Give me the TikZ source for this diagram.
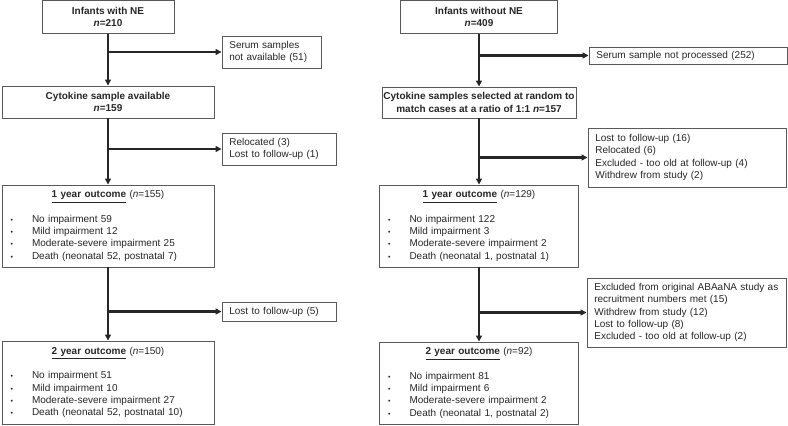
\documentclass[tikz,border=0pt]{standalone}
\usepackage{fontspec}
\setmainfont{Liberation Sans}
\usetikzlibrary{arrows.meta}

\newcommand{\itm}[1]{\makebox[18pt][l]{\hspace{2pt}\scalebox{0.7}{\textbullet}}#1}

\begin{document}
\begin{tikzpicture}[x=0.75pt, y=-0.75pt, font=\fontsize{7.5pt}{9.2pt}\selectfont,
		box/.style={draw=black!65, line width=0.7pt, inner sep=0pt, text=black!85, align=center},
		head/.style={box, font=\fontsize{7.5pt}{9.2pt}\selectfont\bfseries},
		side/.style={box, align=left, inner xsep=5.5pt},
		outc/.style={box, align=left, inner xsep=4.5pt, text width=150pt, minimum height=61.5pt},
		arr/.style={line width=1.6pt, black!85, -{Triangle[length=4.5pt,width=4.5pt]}}]
		\useasboundingbox (0,0) rectangle (788,425);

		% left: infants with NE
		\node[head, minimum width=99pt, minimum height=24.75pt] (nL) at (108,17) {Infants with NE\\\textit{n}=210};
		\node[side, text width=63.25pt, minimum height=24pt] (serL) at (271.5,52) {Serum samples\\not available (51)};
		\node[head, minimum width=159pt, minimum height=24pt] (cytL) at (108,102) {Cytokine sample available\\\textit{n}=159};
		\node[side, text width=74.5pt, minimum height=24pt] (relL) at (279,149) {Relocated (3)\\Lost to follow-up (1)};
		\node[outc] (y1L) at (108,226) {{\centering\underline{\textbf{1 year outcome}} (\textit{n}=155)\par}\vspace{9.2pt}
			\itm{No impairment 59}\\\itm{Mild impairment 12}\\\itm{Moderate-severe impairment 25}\\\itm{Death (neonatal 52, postnatal 7)}};
		\node[side, text width=74.5pt, minimum height=14.25pt] (lostL) at (279,311.5) {Lost to follow-up (5)};
		\node[outc, minimum height=62.25pt] (y2L) at (108,382.5) {{\centering\underline{\textbf{2 year outcome}} (\textit{n}=150)\par}\vspace{9.2pt}
			\itm{No impairment 51}\\\itm{Mild impairment 10}\\\itm{Moderate-severe impairment 27}\\\itm{Death (neonatal 52, postnatal 10)}};

		% right: infants without NE
		\node[head, minimum width=117.75pt, minimum height=24.75pt] (nR) at (479,17) {Infants without NE\\\textit{n}=409};
		\node[side, text width=137.5pt, minimum height=12.75pt] (serR) at (688,55.5) {Serum sample not processed (252)};
		\node[head, minimum width=145.5pt, minimum height=23.25pt] (cytR) at (479,102.5) {Cytokine samples selected at random to\\match cases at a ratio of 1:1 \textit{n}=157};
		\node[side, text width=137.5pt, minimum height=44.25pt] (l16R) at (687,157.5) {Lost to follow-up (16)\\Relocated (6)\\Excluded - too old at follow-up (4)\\Withdrew from study (2)};
		\node[outc, text width=140.25pt] (y1R) at (479,226) {{\centering\underline{\textbf{1 year outcome}} (\textit{n}=129)\par}\vspace{9.2pt}
			\itm{No impairment 122}\\\itm{Mild impairment 3}\\\itm{Moderate-severe impairment 2}\\\itm{Death (neonatal 1, postnatal 1)}};
		\node[side, text width=138.25pt, minimum height=51.75pt] (exR) at (686.5,312.5) {Excluded from original ABAaNA study as\\recruitment numbers met (15)\\Withdrew from study (12)\\Lost to follow-up (8)\\Excluded - too old at follow-up (2)};
		\node[outc, text width=140.25pt] (y2R) at (479,383) {{\centering\underline{\textbf{2 year outcome}} (\textit{n}=92)\par}\vspace{9.2pt}
			\itm{No impairment 81}\\\itm{Mild impairment 6}\\\itm{Moderate-severe impairment 2}\\\itm{Death (neonatal 1, postnatal 2)}};

		\draw[arr] (nL) -- (cytL);
		\draw[arr] (cytL) -- (y1L);
		\draw[arr] (y1L) -- (y2L);
		\draw[arr] (nL |- serL) -- (serL);
		\draw[arr] (cytL |- relL) -- (relL);
		\draw[arr] (y1L |- lostL) -- (lostL);

		\draw[arr] (nR) -- (cytR);
		\draw[arr] (cytR) -- (y1R);
		\draw[arr] (y1R) -- (y2R);
		\draw[arr] (nR |- serR) -- (serR);
		\draw[arr] (cytR |- l16R) -- (l16R);
		\draw[arr] (y1R |- exR) -- (exR);
	\end{tikzpicture}
\end{document}
